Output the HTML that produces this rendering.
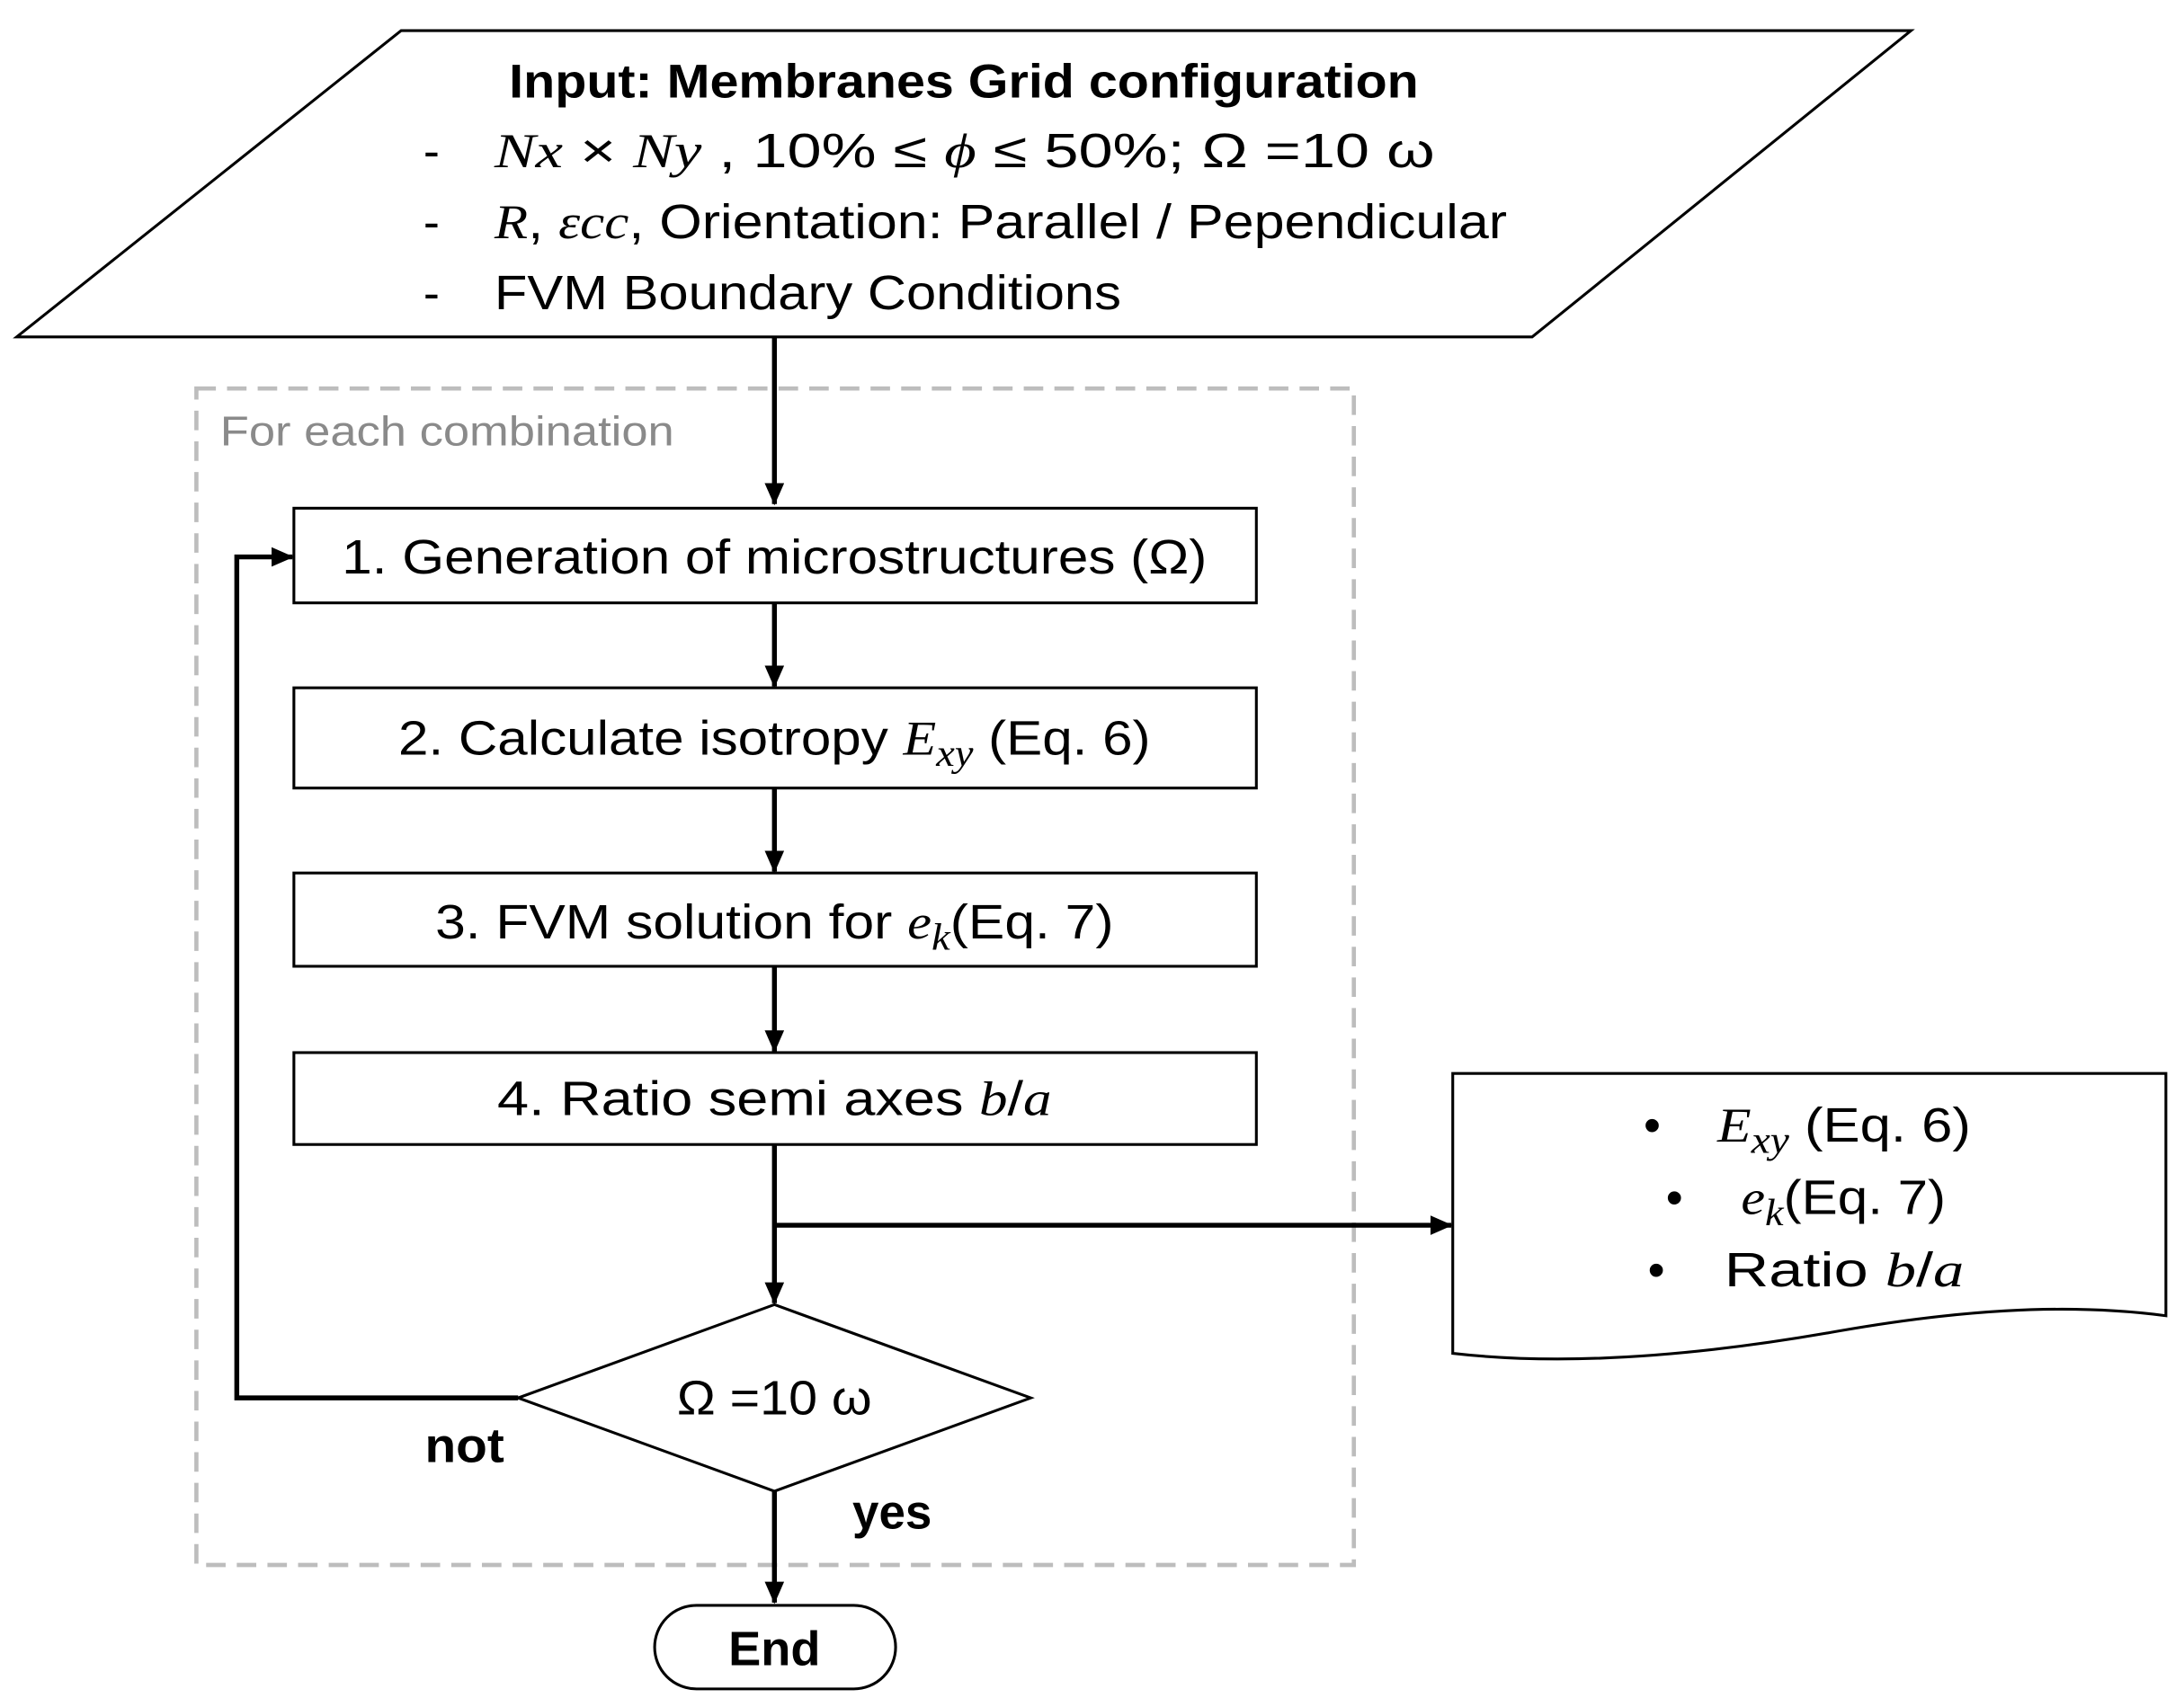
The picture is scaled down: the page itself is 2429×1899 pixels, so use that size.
<!DOCTYPE html>
<html><head><meta charset="utf-8"><style>html,body{margin:0;padding:0;background:#fff}svg{display:block}</style></head>
<body>
<svg width="2429" height="1899" viewBox="0 0 1568 1226" preserveAspectRatio="none" xmlns="http://www.w3.org/2000/svg" font-family="'Liberation Sans Narrow','Liberation Sans',sans-serif">
<defs>
<marker id="b" markerWidth="16" markerHeight="14" refX="15" refY="7" orient="auto" markerUnits="userSpaceOnUse"><path d="M0,0 L16,7 L0,14 Z"/></marker></defs>
<polygon points="288,22 1372,22 1100,242 12,242" fill="#fff" stroke="#000" stroke-width="2"/>
<text x="692" y="70" font-size="34" font-weight="bold" text-anchor="middle" textLength="653" lengthAdjust="spacingAndGlyphs">Input: Membranes Grid configuration</text>
<g font-size="35">
<text x="304" y="120">-</text><text x="304" y="171">-</text><text x="304" y="222">-</text>
<text x="355" y="120" textLength="675" lengthAdjust="spacingAndGlyphs"><tspan font-family="'Liberation Serif',serif" font-style="italic">Nx</tspan> × <tspan font-family="'Liberation Serif',serif" font-style="italic">Ny</tspan> , 10% ≤ <tspan font-family="'Liberation Serif',serif" font-style="italic">ϕ</tspan> ≤ 50%; Ω =10 ω</text>
<text x="355" y="171" textLength="727" lengthAdjust="spacingAndGlyphs"><tspan font-family="'Liberation Serif',serif" font-style="italic">R</tspan>, <tspan font-family="'Liberation Serif',serif" font-style="italic">εcc</tspan>, Orientation: Parallel / Pependicular</text>
<text x="355" y="222" textLength="450" lengthAdjust="spacingAndGlyphs">FVM Boundary Conditions</text>
</g>
<rect x="141" y="279" width="831" height="845" fill="none" stroke="#bdbdbd" stroke-width="3" stroke-dasharray="14,8"/>
<text x="158" y="320" font-size="30" fill="#8a8a8a" textLength="326" lengthAdjust="spacingAndGlyphs">For each combination</text>
<g stroke="#000" stroke-width="3.5" fill="none">
<line x1="556" y1="242" x2="556" y2="362" marker-end="url(#b)"/>
<line x1="556" y1="433" x2="556" y2="493" marker-end="url(#b)"/>
<line x1="556" y1="566" x2="556" y2="626" marker-end="url(#b)"/>
<line x1="556" y1="694" x2="556" y2="755" marker-end="url(#b)"/>
<line x1="556" y1="822" x2="556" y2="936" marker-end="url(#b)"/>
<line x1="556" y1="880" x2="1042" y2="880" marker-end="url(#b)"/>
<polyline points="372,1004 170,1004 170,400 210,400" marker-end="url(#b)"/>
<line x1="556" y1="1071" x2="556" y2="1151" marker-end="url(#b)"/>
</g>
<g fill="#fff" stroke="#000" stroke-width="2">
<rect x="211" y="365" width="691" height="68"/>
<rect x="211" y="494" width="691" height="72"/>
<rect x="211" y="627" width="691" height="67"/>
<rect x="211" y="756" width="691" height="66"/>
<polygon points="556,937 740,1004 556,1071 372,1004"/>
<rect x="470" y="1153" width="173" height="60" rx="30"/>
<path d="M1043,771 H1555 V945 C1480,935 1400,942 1320,956 C1230,972 1130,982 1043,972 Z"/>
</g>
<g font-size="35" text-anchor="middle">
<text x="556" y="412" textLength="621" lengthAdjust="spacingAndGlyphs">1. Generation of microstructures (Ω)</text>
<text x="556" y="542" textLength="540" lengthAdjust="spacingAndGlyphs">2. Calculate isotropy <tspan font-family="'Liberation Serif',serif" font-style="italic">E</tspan><tspan font-family="'Liberation Serif',serif" font-style="italic" font-size="27" dy="8">xy</tspan><tspan dy="-8"> (Eq. 6)</tspan></text>
<text x="556" y="674" textLength="487" lengthAdjust="spacingAndGlyphs">3. FVM solution for <tspan font-family="'Liberation Serif',serif" font-style="italic">e</tspan><tspan font-family="'Liberation Serif',serif" font-style="italic" font-size="27" dy="8">k</tspan><tspan dy="-8">(Eq. 7)</tspan></text>
<text x="556" y="801" textLength="398" lengthAdjust="spacingAndGlyphs">4. Ratio semi axes <tspan font-family="'Liberation Serif',serif" font-style="italic">b</tspan>/<tspan font-family="'Liberation Serif',serif" font-style="italic">a</tspan></text>
<text x="556" y="1016" textLength="140" lengthAdjust="spacingAndGlyphs">Ω =10 ω</text>
<text x="556" y="1196" font-weight="bold">End</text>
</g>
<g font-size="35">
<text x="1180" y="820">•</text>
<text x="1233" y="820" textLength="182" lengthAdjust="spacingAndGlyphs"><tspan font-family="'Liberation Serif',serif" font-style="italic">E</tspan><tspan font-family="'Liberation Serif',serif" font-style="italic" font-size="27" dy="8">xy</tspan><tspan dy="-8"> (Eq. 6)</tspan></text>
<text x="1196" y="872">•</text>
<text x="1250" y="872" textLength="147" lengthAdjust="spacingAndGlyphs"><tspan font-family="'Liberation Serif',serif" font-style="italic">e</tspan><tspan font-family="'Liberation Serif',serif" font-style="italic" font-size="27" dy="8">k</tspan><tspan dy="-8">(Eq. 7)</tspan></text>
<text x="1183" y="924">•</text>
<text x="1238" y="924" textLength="172" lengthAdjust="spacingAndGlyphs">Ratio <tspan font-family="'Liberation Serif',serif" font-style="italic">b</tspan>/<tspan font-family="'Liberation Serif',serif" font-style="italic">a</tspan></text>
<text x="305" y="1050" font-weight="bold" textLength="57" lengthAdjust="spacingAndGlyphs">not</text>
<text x="612" y="1098" font-weight="bold" textLength="57" lengthAdjust="spacingAndGlyphs">yes</text>
</g>
</svg>
</body></html>
